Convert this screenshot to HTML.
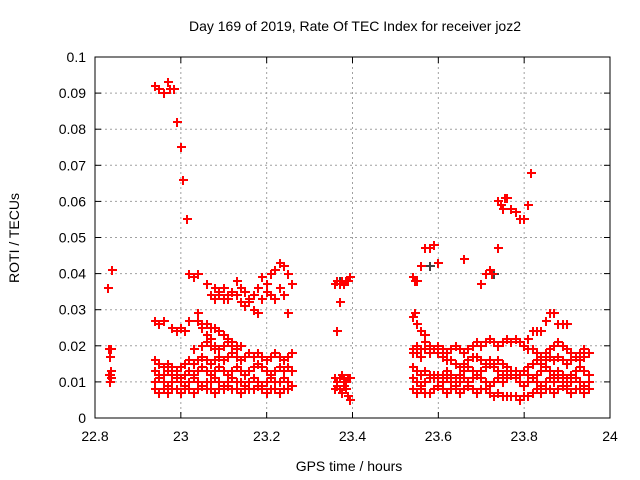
<!DOCTYPE html>
<html><head><meta charset="utf-8"><style>
html,body{margin:0;padding:0;background:#fff;}
svg{display:block;font-family:"Liberation Sans",sans-serif;}
</style></head><body>
<svg id="chart" width="640" height="480">
<rect width="640" height="480" fill="#fff"/>
<text x="355" y="31" font-size="14" text-anchor="middle" fill="#000">Day 169 of 2019, Rate Of TEC Index for receiver joz2</text>
<text x="349" y="471" font-size="14" text-anchor="middle" fill="#000">GPS time / hours</text>
<text x="19" y="238" font-size="14" text-anchor="middle" fill="#000" transform="rotate(-90 19 238)">ROTI / TECUs</text>
<g id="grid"></g>
<g id="ticks"></g>
<g id="marks" shape-rendering="crispEdges"></g>
<rect x="95" y="57" width="515" height="361" fill="none" stroke="#000" stroke-width="1"/>
</svg>
<script>
const xTicks = [22.8, 23, 23.2, 23.4, 23.6, 23.8, 24];
const xTickLabels = ["22.8", "23", "23.2", "23.4", "23.6", "23.8", "24"];
const yTicks = [0, 0.01, 0.02, 0.03, 0.04, 0.05, 0.06, 0.07, 0.08, 0.09, 0.1];
const yTickLabels = ["0", "0.01", "0.02", "0.03", "0.04", "0.05", "0.06", "0.07", "0.08", "0.09", "0.1"];

const t0 = [22.83,22.832,22.835,22.837,22.834,22.838,22.836,22.833,22.84,22.838];
const v0 = [.036,.019,.017,.013,.012,.011,.010,.012,.041,.019];

const t1 = [22.94,22.95,22.96,22.97,22.98,22.99,23.00,23.01,23.02,23.03,23.04,23.05,23.06,23.07,23.08,23.09,23.10,23.11,23.12,23.13,23.14,23.15,23.16,23.17,23.18,23.19,23.20,23.21,23.22,23.23,23.24,23.25,23.26];
const b1A = [.010,.011,.010,.009,.010,.011,.010,.009,.010,.011,.010,.009,.010,.010,.011,.010,.009,.010,.011,.010,.010,.009,.010,.011,.010,.009,.010,.011,.010,.010,.011,.010,.009];
const b1B = [.008,.007,.008,.007,.008,.008,.007,.008,.008,.007,.008,.009,.008,.008,.007,.008,.008,.009,.008,.008,.007,.008,.008,.008,.009,.008,.007,.008,.008,.007,.008,.008,.009];
const b1C = [.013,.012,.012,.013,.012,.012,.011,.012,.013,.012,.013,.014,.013,.012,.013,.014,.013,.012,.013,.014,.013,.012,.013,.014,.015,.014,.013,.012,.013,.014,.013,.014,.013];
const b1D = [.016,.015,.014,.015,.014,.013,.014,.015,.016,.015,.016,.017,.016,.015,.016,.017,.016,.017,.018,.017,.016,.017,.018,.017,.018,.017,.016,.017,.018,.017,.016,.017,.018];

const tHigh = [22.94,22.95,22.96,22.97,22.975,22.985,22.99,23.0,23.005,23.015,23.02,23.03,23.04];
const vHigh = [.092,.091,.090,.093,.091,.091,.082,.075,.066,.055,.040,.039,.040];
const tE = [22.94,22.95,22.96,22.98,22.99,23.00,23.01,23.02,23.04,23.05,23.06,23.07,23.08];
const vE = [.027,.026,.027,.025,.024,.025,.024,.027,.027,.025,.023,.022,.020];
const tF = [23.03,23.05,23.06,23.07,23.08,23.09,23.10,23.11,23.12,23.13];
const vF = [.019,.020,.021,.020,.019,.019,.020,.021,.020,.019];
const tG = [23.04,23.05,23.06,23.07,23.08,23.09,23.10,23.11,23.12,23.13,23.14];
const vG = [.029,.026,.026,.025,.025,.024,.023,.022,.021,.020,.020];
const tH = [23.06,23.07,23.08,23.09,23.10,23.11,23.12,23.13,23.14,23.15,23.16,23.17,23.18,23.19,23.20,23.21,23.22,23.23,23.24,23.25,23.26];
const vH = [.037,.034,.036,.035,.033,.033,.035,.034,.032,.031,.032,.030,.029,.033,.035,.040,.041,.043,.042,.040,.037];
const tI = [23.08,23.09,23.10,23.11,23.12,23.13,23.14,23.15,23.16,23.17,23.18,23.19,23.20,23.21,23.22,23.23,23.24,23.25];
const vI = [.033,.034,.036,.034,.035,.038,.036,.035,.033,.034,.036,.039,.037,.034,.033,.036,.034,.029];

const t2 = [23.36,23.365,23.37,23.375,23.38,23.385,23.39,23.395];
const b2A = [.037,.038,.037,.038,.037,.038,.038,.039];
const b2B = [.011,.010,.011,.012,.011,.010,.011,.011];
const b2C = [.008,.009,.008,.007,.009,.008,.006,.005];
const tX2 = [23.365,23.37];
const vX2 = [.024,.032];

const t3 = [23.54,23.55,23.56,23.57,23.58,23.59,23.60,23.61,23.62,23.63,23.64,23.65,23.66,23.67,23.68,23.69,23.70,23.71,23.72,23.73,23.74,23.75,23.76,23.77,23.78,23.79,23.80,23.81,23.82,23.83,23.84,23.85,23.86,23.87,23.88,23.89,23.90,23.91,23.92,23.93,23.94,23.95];
const b3A = [.011,.010,.009,.010,.011,.012,.011,.010,.011,.010,.009,.010,.011,.010,.011,.012,.011,.010,.009,.010,.011,.010,.011,.012,.011,.010,.009,.010,.011,.010,.009,.010,.011,.010,.011,.010,.009,.010,.011,.010,.009,.010];
const b3B = [.008,.007,.008,.007,.007,.008,.009,.008,.007,.008,.008,.007,.008,.009,.008,.007,.008,.008,.007,.006,.007,.006,.006,.006,.006,.005,.006,.006,.007,.008,.007,.008,.008,.007,.008,.009,.008,.007,.008,.008,.007,.008];
const b3C = [.014,.013,.012,.013,.012,.011,.012,.012,.013,.012,.011,.012,.013,.014,.013,.012,.013,.014,.015,.014,.013,.012,.013,.012,.011,.012,.013,.012,.011,.012,.013,.014,.013,.012,.013,.012,.011,.012,.013,.014,.013,.012];
const b3D = [.018,.018,.017,.019,.018,.019,.018,.017,.016,.016,.015,.014,.015,.016,.017,.017,.016,.015,.016,.015,.016,.015,.014,.013,.013,.012,.013,.014,.015,.016,.015,.016,.017,.016,.017,.016,.015,.016,.017,.016,.017,.018];
const b3E = [.019,.020,.019,.021,.020,.019,.020,.019,.018,.019,.020,.019,.018,.019,.020,.021,.020,.021,.022,.021,.020,.021,.022,.021,.022,.021,.020,.019,.019,.018,.017,.018,.019,.020,.021,.020,.019,.018,.017,.018,.019,.018];
const tJ = [23.54,23.545,23.55,23.56,23.57,23.58,23.59,23.60,23.66,23.70,23.71,23.72,23.725,23.74];
const vJ = [.039,.038,.038,.042,.047,.047,.048,.043,.044,.037,.040,.041,.040,.047];
const tK = [23.74,23.745,23.75,23.755,23.76,23.77,23.78,23.79,23.80,23.81,23.815];
const vK = [.060,.059,.058,.061,.061,.058,.057,.055,.055,.059,.068];
const tL = [23.54,23.545,23.55,23.56,23.57];
const vL = [.028,.029,.026,.024,.023];
const tM = [23.80,23.81,23.82,23.83,23.84,23.85,23.86,23.87,23.88,23.89,23.90];
const vM = [.020,.022,.024,.024,.024,.027,.029,.029,.026,.026,.026];

const tGray = [23.005,23.015,23.37,23.58,23.73,23.76];
const vGray = [.066,.055,.038,.042,.040,.061];

const X0 = 95, X1 = 610, Y0 = 418, Y1 = 57;
const xMin = 22.8, xMax = 24, yMin = 0, yMax = 0.1;
function xScale(v){ return X0 + (v - xMin) / (xMax - xMin) * (X1 - X0); }
function yScale(v){ return Y0 - (v - yMin) / (yMax - yMin) * (Y0 - Y1); }

const NS = "http://www.w3.org/2000/svg";
const grid = document.getElementById("grid");
const ticks = document.getElementById("ticks");
const marks = document.getElementById("marks");

xTicks.forEach(function(v, i){
  const x = xScale(v);
  if (i > 0 && i < xTicks.length - 1) {
    const g = document.createElementNS(NS, "line");
    g.setAttribute("x1", x); g.setAttribute("x2", x); g.setAttribute("y1", Y1); g.setAttribute("y2", Y0);
    g.setAttribute("stroke", "#a0a0a0"); g.setAttribute("stroke-dasharray", "2,3");
    
    
    grid.appendChild(g);
  }
  const t = document.createElementNS(NS, "line");
  t.setAttribute("x1", x); t.setAttribute("x2", x); t.setAttribute("y1", Y0); t.setAttribute("y2", Y0 - 6);
  t.setAttribute("stroke", "#000");
  
  
  ticks.appendChild(t);
  const t2 = document.createElementNS(NS, "line");
  t2.setAttribute("x1", x); t2.setAttribute("x2", x); t2.setAttribute("y1", Y1); t2.setAttribute("y2", Y1 + 6);
  t2.setAttribute("stroke", "#000");
  
  
  ticks.appendChild(t2);
  const l = document.createElementNS(NS, "text");
  l.setAttribute("x", x); l.setAttribute("y", Y0 + 23); l.setAttribute("font-size", "14");
  l.setAttribute("text-anchor", "middle");
  l.textContent = xTickLabels[i];
  
  
  ticks.appendChild(l);
});
yTicks.forEach(function(v, i){
  const y = yScale(v);
  if (i > 0 && i < yTicks.length - 1) {
    const g = document.createElementNS(NS, "line");
    g.setAttribute("x1", X0); g.setAttribute("x2", X1); g.setAttribute("y1", y); g.setAttribute("y2", y);
    g.setAttribute("stroke", "#a0a0a0"); g.setAttribute("stroke-dasharray", "2,3");
    
    
    grid.appendChild(g);
  }
  const t = document.createElementNS(NS, "line");
  t.setAttribute("x1", X0); t.setAttribute("x2", X0 + 6); t.setAttribute("y1", y); t.setAttribute("y2", y);
  t.setAttribute("stroke", "#000");
  
  
  ticks.appendChild(t);
  const t2 = document.createElementNS(NS, "line");
  t2.setAttribute("x1", X1); t2.setAttribute("x2", X1 - 6); t2.setAttribute("y1", y); t2.setAttribute("y2", y);
  t2.setAttribute("stroke", "#000");
  
  
  ticks.appendChild(t2);
  const l = document.createElementNS(NS, "text");
  l.setAttribute("x", X0 - 9); l.setAttribute("y", y + 5); l.setAttribute("font-size", "14");
  l.setAttribute("text-anchor", "end");
  l.textContent = yTickLabels[i];
  
  
  ticks.appendChild(l);
});

function plot(ts, vs, color){
  for (let i = 0; i < ts.length; i++) {
    const x = Math.round(xScale(ts[i])), y = Math.round(yScale(vs[i]));
    const h = document.createElementNS(NS, "rect");
    h.setAttribute("x", x - 4); h.setAttribute("y", y - 1); h.setAttribute("width", 9); h.setAttribute("height", 2);
    h.setAttribute("fill", color);
    
    
    marks.appendChild(h);
    const v = document.createElementNS(NS, "rect");
    v.setAttribute("x", x - 1); v.setAttribute("y", y - 4); v.setAttribute("width", 2); v.setAttribute("height", 9);
    v.setAttribute("fill", color);
    
    
    marks.appendChild(v);
  }
}
const red = "#ff0000";
plot(tGray, vGray, "#404040");
plot(t0, v0, red);
[b1A, b1B, b1C, b1D].forEach(function(b){ plot(t1, b, red); });
plot(tHigh, vHigh, red); plot(tE, vE, red); plot(tF, vF, red); plot(tG, vG, red);
plot(tH, vH, red); plot(tI, vI, red);
[b2A, b2B, b2C].forEach(function(b){ plot(t2, b, red); });
plot(tX2, vX2, red);
[b3A, b3B, b3C, b3D, b3E].forEach(function(b){ plot(t3, b, red); });
plot(tJ, vJ, red); plot(tK, vK, red); plot(tL, vL, red); plot(tM, vM, red);
</script>
</body></html>
